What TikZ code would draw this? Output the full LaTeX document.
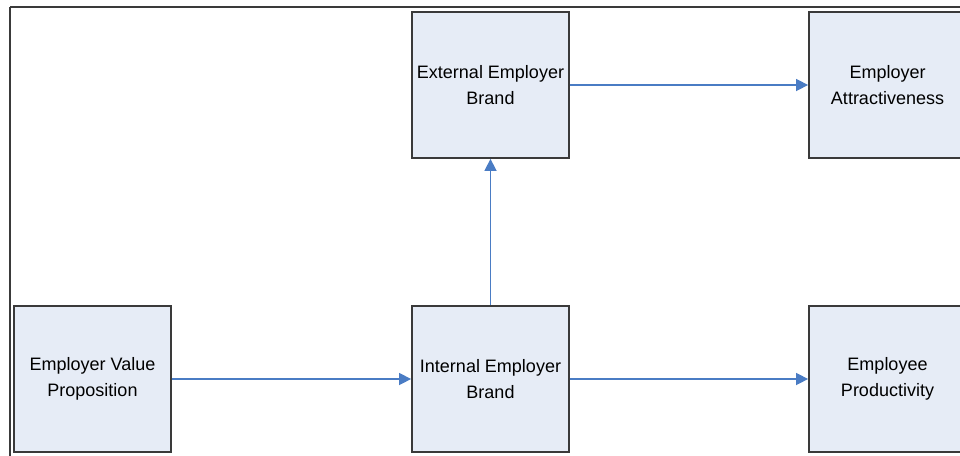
\documentclass[tikz,border=0pt]{standalone}
\usepackage{fontspec}
\setmainfont{Liberation Sans}
\usetikzlibrary{arrows.meta}
\definecolor{boxfill}{HTML}{E6ECF6}
\definecolor{boxline}{HTML}{3A3A3A}
\definecolor{arrowblue}{HTML}{4A7CC4}
\begin{document}
\begin{tikzpicture}[x=1pt,y=-1pt,
  blk/.style={draw=boxline,line width=1.8pt,fill=boxfill,minimum width=157pt,minimum height=146pt,
    inner sep=0pt,align=center,font=\fontsize{18}{25.5}\selectfont,text=black},
  conn/.style={draw=arrowblue,line width=1.5pt,-{Triangle[length=12pt,width=12pt]}}]
\useasboundingbox (0,0) rectangle (960,455);
\begin{scope}
\clip (0,0) rectangle (960,455);
\draw[boxline,line width=2pt] (10,7) -- (962,7);
\draw[boxline,line width=2pt] (10,7) -- (10,460);
\node[blk] (evp) at (92.5,379) {Employer Value\\Proposition};
\node[blk] (ieb) at (490.5,379) {Internal Employer\\Brand};
\node[blk] (eeb) at (490.5,85) {External Employer\\Brand};
\node[blk] (ea) at (887.5,85) {Employer\\Attractiveness};
\node[blk] (ep) at (887.5,379) {Employee\\Productivity};
\draw[conn] (evp) -- (ieb);
\draw[conn] (ieb) -- (ep);
\draw[conn] (ieb) -- (eeb);
\draw[conn] (eeb) -- (ea);
\end{scope}
\end{tikzpicture}
\end{document}
